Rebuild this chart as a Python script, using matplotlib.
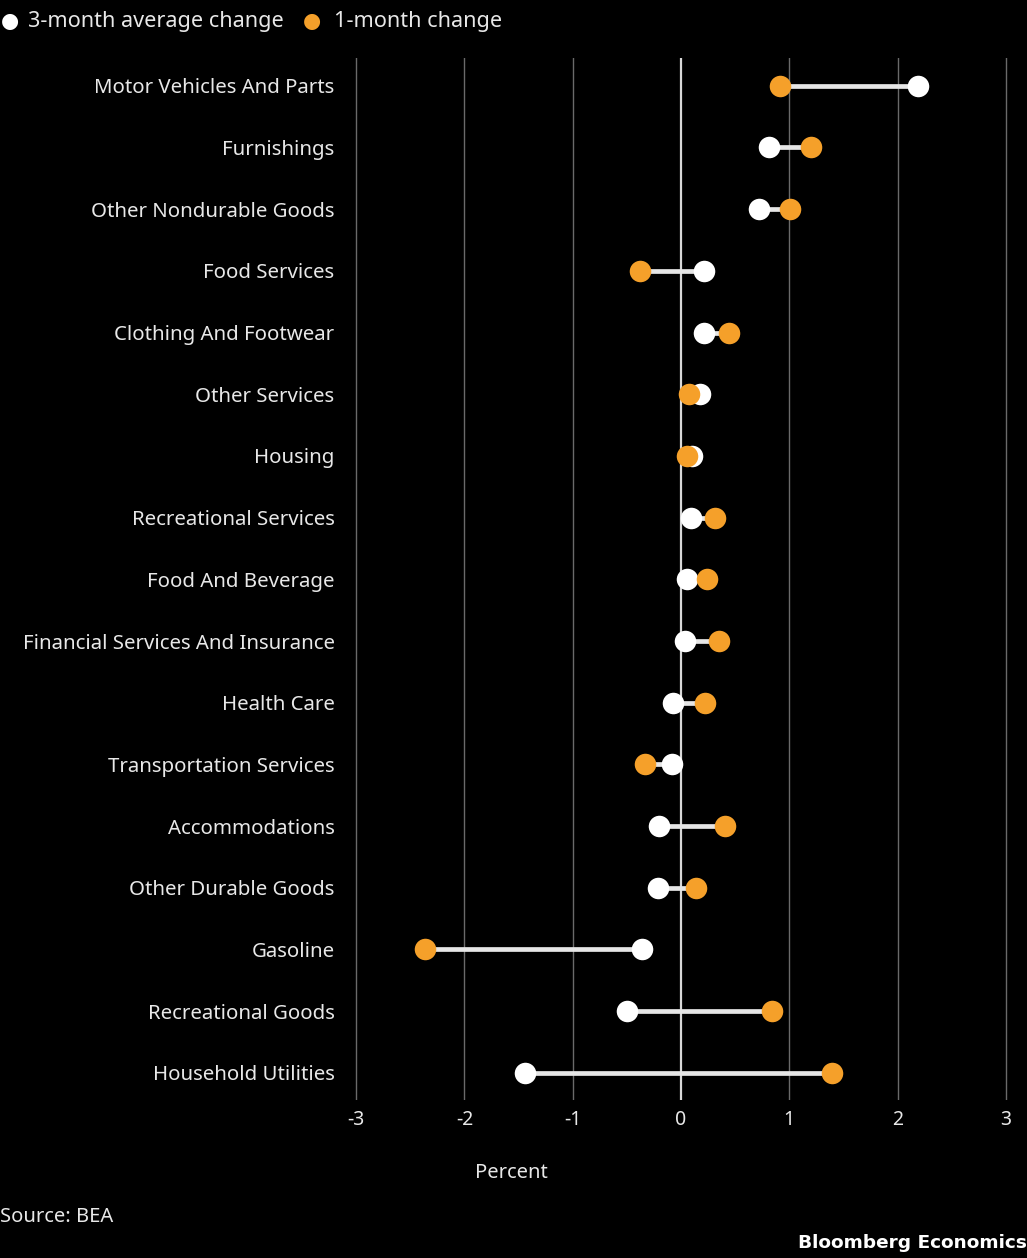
import numpy as np
import matplotlib.pyplot as plt

categories = [
    "Motor Vehicles And Parts", "Furnishings", "Other Nondurable Goods",
    "Food Services", "Clothing And Footwear", "Other Services", "Housing",
    "Recreational Services", "Food And Beverage",
    "Financial Services And Insurance", "Health Care",
    "Transportation Services", "Accommodations", "Other Durable Goods",
    "Gasoline", "Recreational Goods", "Household Utilities",
]
avg_3m = [2.19, 0.81, 0.72, 0.21, 0.21, 0.18, 0.10, 0.09, 0.06, 0.04,
          -0.07, -0.08, -0.20, -0.21, -0.36, -0.50, -1.44]
chg_1m = [0.91, 1.20, 1.01, -0.38, 0.44, 0.07, 0.06, 0.31, 0.24, 0.35,
          0.22, -0.33, 0.41, 0.14, -2.36, 0.84, 1.39]
xticks = [-3, -2, -1, 0, 1, 2, 3]

WHITE = "#ffffff"
ORANGE = "#f5a02a"
TEXT = "#e8e8e8"

plt.rcParams["font.family"] = ["Noto Sans", "DejaVu Sans"]

fig = plt.figure(figsize=(10.27, 12.58), dpi=100, facecolor="black")
ax = fig.add_axes([354 / 1027, 1 - 1100 / 1258, (1008 - 354) / 1027, (1100 - 58) / 1258])
ax.set_facecolor("black")

y = np.arange(len(categories))
for xv in xticks:
    if xv == 0:
        ax.axvline(xv, color="#d8d8d8", lw=1.6, zorder=1)
    else:
        ax.axvline(xv, color="#6a6a6a", lw=1.0, zorder=1)

ax.hlines(y, avg_3m, chg_1m, color="#e6e6e6", lw=3.4, zorder=2)
ax.plot(avg_3m, y, "o", color=WHITE, ms=15.5, mec="none", zorder=3)
ax.plot(chg_1m, y, "o", color=ORANGE, ms=15.5, mec="none", zorder=4)

ax.set_xlim(-3.02, 3.02)
ax.set_ylim(16.44, -0.45)
ax.set_yticks(y)
ax.set_yticklabels(categories, color=TEXT, fontsize=14.7)
ax.set_xticks(xticks)
ax.set_xticklabels([str(t) for t in xticks], color=TEXT, fontsize=14)
ax.tick_params(axis="both", length=0, pad=7)
ax.tick_params(axis="y", pad=14)
for s in ax.spines.values():
    s.set_visible(False)

# legend
fig.text(1 / 1027, 1 - 21 / 1258, "\u25cf", color=WHITE, fontsize=15, va="center", ha="left")
fig.text(28 / 1027, 1 - 21 / 1258, "3-month average change", color=TEXT, fontsize=15.6, va="center")
fig.text(303 / 1027, 1 - 21 / 1258, "\u25cf", color=ORANGE, fontsize=15, va="center", ha="left")
fig.text(334 / 1027, 1 - 21 / 1258, "1-month change", color=TEXT, fontsize=15.6, va="center")

fig.text(511 / 1027, 1 - 1173 / 1258, "Percent", color=TEXT, fontsize=14.5, ha="center", va="center")
fig.text(0, 1 - 1217 / 1258, "Source: BEA", color=TEXT, fontsize=14.5, ha="left", va="center")
fig.text(1027 / 1027, 1 - 1243 / 1258, "Bloomberg Economics", color=WHITE, fontsize=13.3,
         family="DejaVu Sans", fontweight="bold", ha="right", va="center")

fig.savefig("out.png", dpi=100, facecolor="black")
